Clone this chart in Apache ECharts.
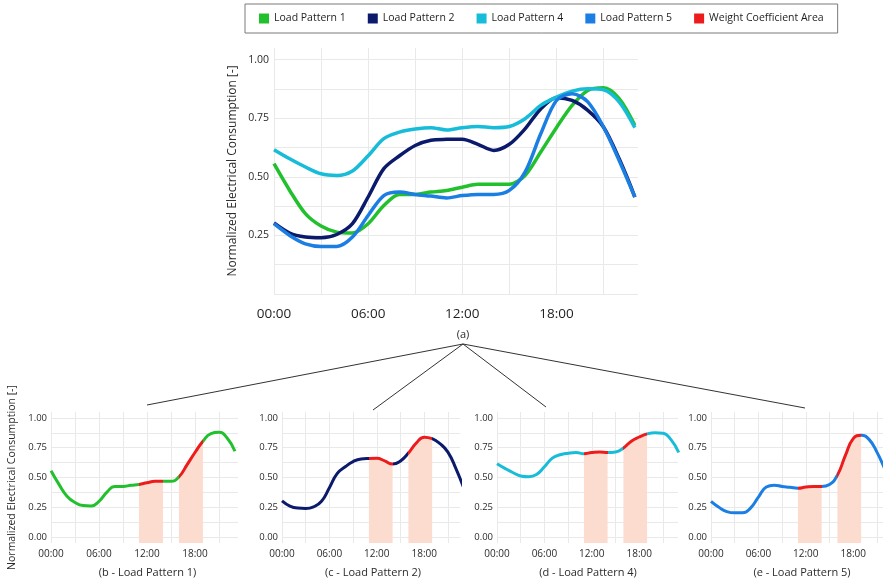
<!DOCTYPE html>
<html>
<head>
<meta charset="utf-8">
<script src="https://cdn.jsdelivr.net/npm/echarts@6/dist/echarts.min.js"></script>
<style>
  html, body { margin: 0; padding: 0; background: #ffffff; }
  #chart { width: 883px; height: 581px; }
</style>
</head>
<body>
<div id="chart"></div>
<script>
// Hourly profiles (hour of day -> normalized consumption)
const hours = [0, 1, 2, 3, 4, 5, 6, 7, 8, 9, 10, 11, 12, 13, 14, 15, 16, 17, 18, 19, 20, 21, 22, 23];
const loadPattern1 = [0.556, 0.442, 0.343, 0.290, 0.264, 0.260, 0.300, 0.378, 0.425, 0.425, 0.435, 0.442, 0.456, 0.468, 0.468, 0.468, 0.506, 0.606, 0.710, 0.805, 0.869, 0.880, 0.834, 0.720];
const loadPattern2 = [0.303, 0.260, 0.243, 0.240, 0.254, 0.300, 0.414, 0.535, 0.590, 0.634, 0.656, 0.660, 0.661, 0.639, 0.613, 0.639, 0.705, 0.790, 0.838, 0.826, 0.784, 0.713, 0.577, 0.414];
const loadPattern4 = [0.616, 0.577, 0.542, 0.513, 0.506, 0.525, 0.590, 0.663, 0.691, 0.704, 0.710, 0.700, 0.710, 0.715, 0.710, 0.715, 0.748, 0.805, 0.840, 0.866, 0.876, 0.872, 0.820, 0.710];
const loadPattern5 = [0.300, 0.250, 0.214, 0.203, 0.203, 0.243, 0.335, 0.420, 0.435, 0.425, 0.418, 0.410, 0.420, 0.425, 0.425, 0.442, 0.520, 0.684, 0.826, 0.855, 0.820, 0.713, 0.570, 0.414];

// Weighted time windows [start hour, end hour]
const weightWindows = [[11, 14], [16, 19]];

// Axis ticks and labels
const hourLabelValues = [0, 6, 12, 18];
const hourGridValues = [0, 3, 6, 9, 12, 15, 18, 21];
const mainValueLabels = [0.25, 0.5, 0.75, 1.0];
const subValueLabels = [0, 0.25, 0.5, 0.75, 1.0];
const valueGridValues = [0, 0.125, 0.25, 0.375, 0.5, 0.625, 0.75, 0.875, 1.0];

const FONT = 'Open Sans';
const TEXT = '#2b2b2b';
const GRID_LINE = '#e9e9e9';
const RED = '#ec1c1c';
const SHADE = '#fcdccf';
const AREA_NAME = 'Weight Coefficient Area';

const patterns = [
  { name: 'Load Pattern 1', values: loadPattern1, color: '#22c02d', caption: '(b - Load Pattern 1)' },
  { name: 'Load Pattern 2', values: loadPattern2, color: '#0b1a6b', caption: '(c - Load Pattern 2)' },
  { name: 'Load Pattern 4', values: loadPattern4, color: '#17bcd9', caption: '(d - Load Pattern 4)' },
  { name: 'Load Pattern 5', values: loadPattern5, color: '#1b7ee3', caption: '(e - Load Pattern 5)' }
];

// Small-panel layout: left edge, width, pixels per hour
const subPanels = [
  { left: 51, width: 187, pxPerHour: 8.0 },
  { left: 282, width: 178, pxPerHour: 7.9 },
  { left: 497, width: 181, pxPerHour: 7.9 },
  { left: 711, width: 172, pxPerHour: 7.9 }
];
const SUB_TOP = 412, SUB_HEIGHT = 131;

const toPoints = (values) => hours.map((h, i) => [h, values[i]]);
const windowPoints = (values, w) => hours.filter(h => h >= w[0] && h <= w[1]).map(h => [h, values[hours.indexOf(h)]]);

const grids = [{ left: 274, top: 48, width: 364, height: 246 }];
subPanels.forEach(p => grids.push({ left: p.left, top: SUB_TOP, width: p.width, height: SUB_HEIGHT }));

const xAxes = [{
  type: 'value', gridIndex: 0, min: 0, max: 23.2,
  axisLine: { show: false },
  axisTick: { show: false, customValues: hourGridValues },
  splitLine: { show: true, lineStyle: { color: GRID_LINE, width: 1 } },
  axisLabel: {
    customValues: hourLabelValues, margin: 13,
    fontFamily: FONT, fontSize: 13.5, color: '#1e1e1e',
    formatter: v => String(v).padStart(2, '0') + ':00'
  }
}];
const yAxes = [{
  type: 'value', gridIndex: 0, min: 0, max: 1.05,
  name: 'Normalized Electrical Consumption [-]',
  nameLocation: 'middle', nameGap: 35,
  nameTextStyle: { fontFamily: FONT, fontSize: 12, color: TEXT },
  axisLine: { show: false },
  axisTick: { show: false, customValues: valueGridValues },
  splitLine: { show: true, lineStyle: { color: GRID_LINE, width: 1 } },
  axisLabel: {
    customValues: mainValueLabels, margin: 5,
    fontFamily: FONT, fontSize: 10.5, color: TEXT,
    formatter: v => v.toFixed(2)
  }
}];

subPanels.forEach((p, k) => {
  xAxes.push({
    type: 'value', gridIndex: k + 1, min: 0, max: +(p.width / p.pxPerHour).toFixed(2),
    axisLine: { show: false },
    axisTick: { show: false, customValues: hourGridValues },
    splitLine: { show: true, lineStyle: { color: GRID_LINE, width: 1 } },
    axisLabel: {
      customValues: hourLabelValues, margin: 6,
      fontFamily: FONT, fontSize: 10, color: TEXT,
      formatter: v => String(v).padStart(2, '0') + ':00'
    }
  });
  yAxes.push({
    type: 'value', gridIndex: k + 1, min: -0.05, max: 1.05,
    name: k === 0 ? 'Normalized Electrical Consumption [-]' : '',
    nameLocation: 'middle', nameGap: 33,
    nameTextStyle: { fontFamily: FONT, fontSize: 10.5, color: TEXT },
    axisLine: { show: false },
    axisTick: { show: false, customValues: valueGridValues },
    splitLine: { show: true, lineStyle: { color: GRID_LINE, width: 1 } },
    axisLabel: {
      customValues: subValueLabels, margin: 4,
      fontFamily: FONT, fontSize: 9.5, color: TEXT,
      formatter: v => v.toFixed(2)
    }
  });
});

const series = [];
// Overview panel: all patterns together
patterns.forEach(p => {
  series.push({
    name: p.name, type: 'line', xAxisIndex: 0, yAxisIndex: 0,
    data: toPoints(p.values), smooth: 0.3, showSymbol: false,
    lineStyle: { width: 3.5, color: p.color }, itemStyle: { color: p.color }, z: 3
  });
});
// Detail panels: one pattern each, with the weighted windows shaded
const visualMaps = [];
patterns.forEach((p, k) => {
  weightWindows.forEach(w => {
    series.push({
      name: AREA_NAME, type: 'line', xAxisIndex: k + 1, yAxisIndex: k + 1,
      data: windowPoints(p.values, w), smooth: 0.5, showSymbol: false, silent: true,
      lineStyle: { width: 0, color: RED }, itemStyle: { color: RED },
      areaStyle: { color: SHADE, opacity: 1, origin: 'start' }, z: 1
    });
  });
  visualMaps.push({
    type: 'piecewise', show: false, dimension: 0, seriesIndex: series.length,
    pieces: weightWindows.map(w => ({ gte: w[0], lte: w[1], color: RED })),
    outOfRange: { color: p.color }
  });
  series.push({
    name: p.name, type: 'line', xAxisIndex: k + 1, yAxisIndex: k + 1,
    data: toPoints(p.values), smooth: 0.5, showSymbol: false,
    lineStyle: { width: 3 }, z: 3
  });
});

// Captions and the lines linking the overview to the detail panels
const apex = [463, 344];
const graphic = [
  { type: 'text', x: 463, y: 335, style: { text: '(a)', font: '11px "Open Sans"', fill: TEXT, align: 'center', verticalAlign: 'middle' } }
];
[[147, 405], [373, 410], [546, 407], [805, 408]].forEach(end => {
  graphic.push({ type: 'line', shape: { x1: apex[0], y1: apex[1], x2: end[0], y2: end[1] }, style: { stroke: '#333', lineWidth: 1 } });
});
subPanels.forEach((p, k) => {
  graphic.push({
    type: 'text', x: p.left + (k === 0 ? p.width / 2 + 3 : 91), y: 573,
    style: { text: patterns[k].caption, font: '11px "Open Sans"', fill: TEXT, align: 'center', verticalAlign: 'middle' }
  });
});

const chart = echarts.init(document.getElementById('chart'), null, { renderer: 'canvas' });
chart.setOption({
  animation: false,
  backgroundColor: '#ffffff',
  textStyle: { fontFamily: FONT },
  legend: {
    left: 245, top: 4, width: 630,
    icon: 'rect', itemWidth: 10, itemHeight: 10, itemGap: 22,
    padding: [9, 14],
    borderColor: '#7a7a7a', borderWidth: 1,
    textStyle: { fontFamily: FONT, fontSize: 10.5, color: '#1e1e1e' },
    data: patterns.map(p => ({ name: p.name, itemStyle: { color: p.color } }))
      .concat([{ name: AREA_NAME, itemStyle: { color: RED } }])
  },
  grid: grids,
  xAxis: xAxes,
  yAxis: yAxes,
  visualMap: visualMaps,
  series: series,
  graphic: graphic
});
</script>
</body>
</html>
